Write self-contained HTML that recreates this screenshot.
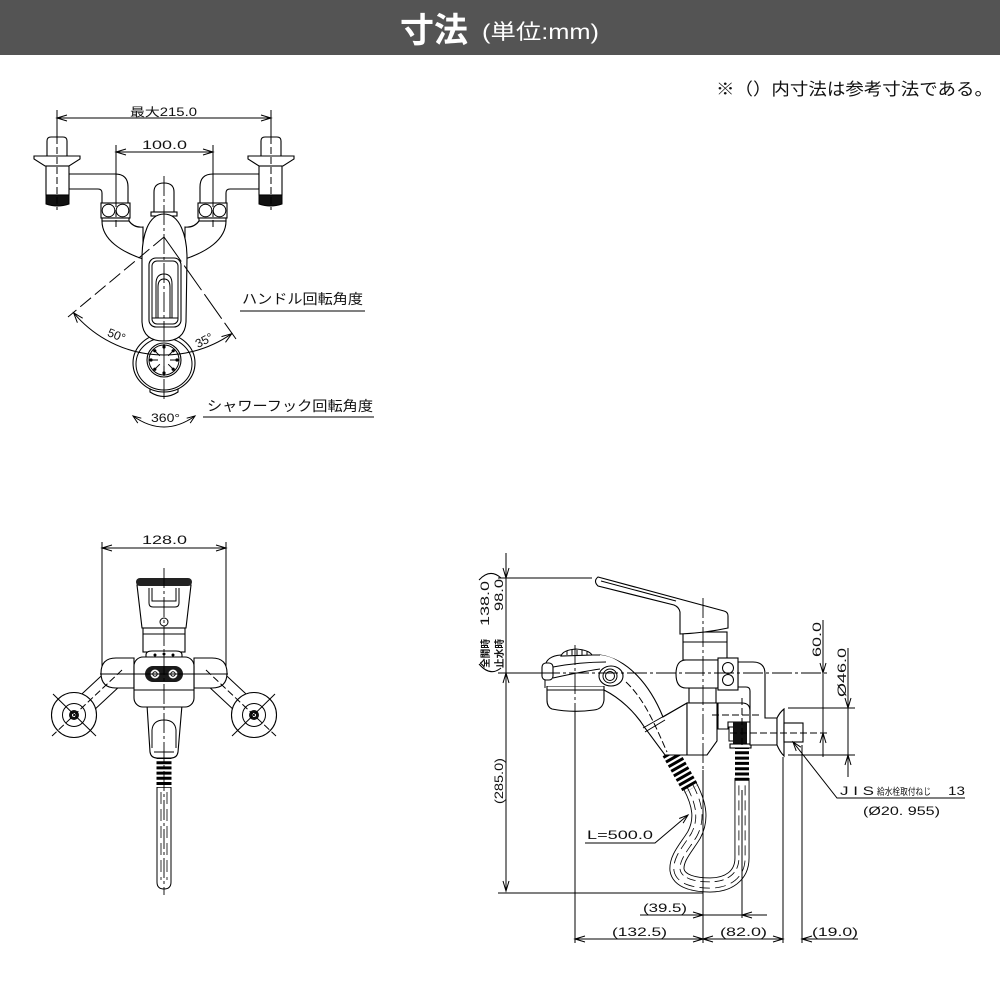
<!DOCTYPE html>
<html><head><meta charset="utf-8">
<style>
html,body{margin:0;padding:0;background:#fff;}
svg{display:block}
.l{stroke:#000;stroke-width:1;fill:none}
.w{fill:#fff;stroke:#000;stroke-width:1.1}
.k{fill:#111;stroke:#000;stroke-width:1}
.dd{stroke:#000;stroke-width:1;fill:none;stroke-dasharray:7 3}
.cl{stroke:#000;stroke-width:0.9;fill:none;stroke-dasharray:20 3 3 3}
.t{font-family:"Liberation Sans","Noto Sans CJK JP",sans-serif;fill:#111;font-size:12px}
.j{font-family:"Liberation Sans","Noto Sans CJK JP",sans-serif;fill:#111}
</style></head><body>
<svg width="1000" height="1000" viewBox="0 0 1000 1000" xmlns="http://www.w3.org/2000/svg">
<rect x="0" y="0" width="1000" height="1000" fill="#fff"/>
<!-- header -->
<rect x="0" y="0" width="1000" height="55" fill="#545454"/>
<text x="400" y="42" class="j" style="fill:#fff;font-size:34px;font-weight:bold">寸法</text>
<text x="482" y="39" class="j" style="fill:#fff;font-size:21px" textLength="117" lengthAdjust="spacingAndGlyphs">(単位:mm)</text>
<text x="716" y="95" class="j" style="font-size:17px" textLength="277" lengthAdjust="spacingAndGlyphs">※（）内寸法は参考寸法である。</text>

<!-- ================= TOP VIEW ================= -->
<g id="topL">
  <path class="w" d="M69,174 H115 Q128,174 128,187 V203 H102 V193 Q102,189 98,189 H69 Z"/>
  <path class="w" d="M47,157 V141 Q47,137 51,137 H63 Q67,137 67,141 V157 Z"/>
  <path class="w" d="M34,156 H80 V159 L69,166 H45 L34,159 Z"/>
  <rect class="w" x="46" y="166" width="23" height="29"/>
  <path class="k" d="M46,195 H69 V204 Q57.5,208 46,204 Z"/>
  <path class="w" d="M102,221 C102,240 122,252 143,259 L143,227 Q134,228 129,221 Z"/>
  <rect class="w" x="101" y="203" width="29" height="15"/>
  <circle class="l" cx="108.5" cy="210.5" r="6.3"/>
  <circle class="l" cx="122.5" cy="210.5" r="6.3"/>
  <rect class="w" x="102" y="218" width="27" height="3"/>
</g>
<g transform="translate(328,0) scale(-1,1)">
  <path class="w" d="M69,174 H115 Q128,174 128,187 V203 H102 V193 Q102,189 98,189 H69 Z"/>
  <path class="w" d="M47,157 V141 Q47,137 51,137 H63 Q67,137 67,141 V157 Z"/>
  <path class="w" d="M34,156 H80 V159 L69,166 H45 L34,159 Z"/>
  <rect class="w" x="46" y="166" width="23" height="29"/>
  <path class="k" d="M46,195 H69 V204 Q57.5,208 46,204 Z"/>
  <path class="w" d="M102,221 C102,240 122,252 143,259 L143,227 Q134,228 129,221 Z"/>
  <rect class="w" x="101" y="203" width="29" height="15"/>
  <circle class="l" cx="108.5" cy="210.5" r="6.3"/>
  <circle class="l" cx="122.5" cy="210.5" r="6.3"/>
  <rect class="w" x="102" y="218" width="27" height="3"/>
</g>
<!-- dome -->
<path class="w" d="M154,213 V192 Q154,183 164,183 Q174,183 174,192 V213 Z"/>
<rect class="w" x="151" y="212" width="26" height="4"/>
<!-- shower ring -->
<path class="w" d="M150,386 Q164,396 178,386 L178,392 Q164,401 150,392 Z"/>
<ellipse class="w" cx="164" cy="363" rx="31" ry="29"/>
<ellipse class="l" cx="164" cy="364" rx="28" ry="26"/>
<!-- body -->
<path class="w" d="M142,258 C142,236 148,214 164,214 C180,214 187,236 187,258 L186,322 Q185,341 164,341 Q143,341 142,322 Z"/>
<rect class="w" x="149" y="258" width="32" height="69" rx="7"/>
<rect class="l" x="152" y="261" width="26" height="63" rx="5"/>
<path class="l" d="M156,318 V284 Q156,274 164,274 Q172,274 172,284 V318"/>
<path class="l" d="M158,318 V287 Q158,279 164,279 Q170,279 170,287 V318"/>
<line class="l" x1="152" y1="318" x2="178" y2="318"/>
<!-- inner circle -->
<circle class="w" cx="164" cy="360" r="17"/>
<circle class="l" cx="164" cy="360" r="15"/>
<g class="l">
<line x1="170" y1="360" x2="177" y2="360"/><line x1="168.2" y1="364.2" x2="173.2" y2="369.2"/>
<line x1="164" y1="366" x2="164" y2="373"/><line x1="159.8" y1="364.2" x2="154.8" y2="369.2"/>
<line x1="158" y1="360" x2="151" y2="360"/><line x1="159.8" y1="355.8" x2="154.8" y2="350.8"/>
<line x1="164" y1="354" x2="164" y2="347"/><line x1="168.2" y1="355.8" x2="173.2" y2="350.8"/>
</g>
<g fill="#000">
<circle cx="177" cy="360" r="1.6"/><circle cx="173.2" cy="369.2" r="1.6"/><circle cx="164" cy="373" r="1.6"/><circle cx="154.8" cy="369.2" r="1.6"/>
<circle cx="151" cy="360" r="1.6"/><circle cx="154.8" cy="350.8" r="1.6"/><circle cx="164" cy="347" r="1.6"/><circle cx="173.2" cy="350.8" r="1.6"/>
</g>
<!-- top dims -->
<line class="l" x1="57" y1="118" x2="271" y2="118"/>
<polyline class="l" points="67,115 57,118 67,121"/>
<polyline class="l" points="261,115 271,118 261,121"/>
<text class="t" x="130" y="116" style="font-size:11.5px" textLength="67" lengthAdjust="spacingAndGlyphs">最大215.0</text>
<line class="l" x1="116" y1="152" x2="213" y2="152"/>
<polyline class="l" points="126,149 116,152 126,155"/>
<polyline class="l" points="203,149 213,152 203,155"/>
<text class="t" x="142" y="149" textLength="45" lengthAdjust="spacingAndGlyphs">100.0</text>
<line class="l" x1="57" y1="110" x2="57" y2="137"/>
<line class="dd" x1="57" y1="137" x2="57" y2="210"/>
<line class="l" x1="271" y1="110" x2="271" y2="137"/>
<line class="dd" x1="271" y1="137" x2="271" y2="210"/>
<line class="l" x1="116" y1="145" x2="116" y2="200"/>
<line class="dd" x1="116" y1="200" x2="116" y2="230"/>
<line class="l" x1="213" y1="145" x2="213" y2="200"/>
<line class="dd" x1="213" y1="200" x2="213" y2="230"/>
<line class="cl" x1="164" y1="176" x2="164" y2="402"/>
<!-- angle lines -->
<line class="l" x1="164" y1="237" x2="68" y2="317" style="stroke-dasharray:14 5"/>
<line class="l" x1="164" y1="237" x2="236" y2="339" style="stroke-dasharray:30 5"/>
<path class="l" d="M73.6,312.8 A118,118 0 0 0 231.7,333.7"/>
<polyline class="l" points="82.7,318.2 73.6,312.8 77.4,322.7"/>
<polyline class="l" points="225.5,342.3 231.7,333.7 221.5,336.6"/>
<text class="t" transform="translate(115,339) rotate(22)" text-anchor="middle" style="font-size:12px">50°</text>
<text class="t" transform="translate(206,344) rotate(-27)" text-anchor="middle" style="font-size:12px">35°</text>
<text class="j" x="242" y="304" style="font-size:14px" textLength="121" lengthAdjust="spacingAndGlyphs">ハンドル回転角度</text>
<line class="l" x1="240" y1="311" x2="365" y2="311"/>
<text class="j" x="207" y="411" style="font-size:14px" textLength="166" lengthAdjust="spacingAndGlyphs">シャワーフック回転角度</text>
<line class="l" x1="203" y1="417" x2="374" y2="417"/>
<path class="l" d="M133,416 Q164,438 195,416"/>
<polyline class="l" points="141.3,418.2 133,416 137.8,423.1"/>
<polyline class="l" points="186.7,418.2 195,416 190.2,423.1"/>
<text class="t" x="151" y="422" textLength="29" lengthAdjust="spacingAndGlyphs">360°</text>

<!-- ================= FRONT VIEW ================= -->
<line class="l" x1="102" y1="548" x2="226" y2="548"/>
<polyline class="l" points="112,545 102,548 112,551"/>
<polyline class="l" points="216,545 226,548 216,551"/>
<text class="t" x="142" y="544" textLength="45" lengthAdjust="spacingAndGlyphs">128.0</text>
<line class="l" x1="102" y1="542" x2="102" y2="668"/>
<line class="l" x1="226" y1="542" x2="226" y2="668"/>
<g id="armL">
  <line x1="117" y1="675" x2="74" y2="715" stroke="#000" stroke-width="21"/>
  <line x1="117" y1="675" x2="74" y2="715" stroke="#fff" stroke-width="19"/>
  <path class="w" d="M134,658 H116 Q101,658 101,673 Q101,688 116,688 H134 Z"/>
  <circle class="w" cx="74" cy="715" r="22.5"/>
  <circle class="l" cx="74" cy="715" r="11.5"/>
  <circle cx="74" cy="715" r="5" fill="#111"/>
  <circle cx="74" cy="715" r="2" fill="#fff"/>
  <line class="dd" x1="122" y1="670" x2="52" y2="736"/>
  <line class="l" x1="53" y1="694" x2="96" y2="736"/>
</g>
<g transform="translate(328,0) scale(-1,1)">
  <line x1="117" y1="675" x2="74" y2="715" stroke="#000" stroke-width="21"/>
  <line x1="117" y1="675" x2="74" y2="715" stroke="#fff" stroke-width="19"/>
  <path class="w" d="M134,658 H116 Q101,658 101,673 Q101,688 116,688 H134 Z"/>
  <circle class="w" cx="74" cy="715" r="22.5"/>
  <circle class="l" cx="74" cy="715" r="11.5"/>
  <circle cx="74" cy="715" r="5" fill="#111"/>
  <circle cx="74" cy="715" r="2" fill="#fff"/>
  <line class="dd" x1="122" y1="670" x2="52" y2="736"/>
  <line class="l" x1="53" y1="694" x2="96" y2="736"/>
</g>
<!-- hose front -->
<path class="l" d="M157,787 V882 Q157,889 164,889 Q171,889 171,882 V787"/>
<line x1="161" y1="792" x2="161" y2="880" stroke="#000" stroke-width="0.8" stroke-dasharray="12 5"/>
<line x1="167" y1="792" x2="167" y2="880" stroke="#000" stroke-width="0.8" stroke-dasharray="12 5"/>
<line x1="164" y1="756" x2="164" y2="788" stroke="#000" stroke-width="15" stroke-dasharray="3 2.2"/>
<!-- holder -->
<path class="w" d="M147,705 L150,752 Q151,758 157,758 H171 Q177,758 178,752 L182,705 Z"/>
<path class="l" d="M152,748 V730 Q153,720 164,720 Q175,720 176,730 V748"/>
<path class="l" d="M154,752 H174"/>
<!-- handle -->
<path class="w" d="M137,585 H191 L186,628 H142 Z"/>
<rect x="136" y="578" width="56" height="8" rx="4" fill="#222"/>
<path class="l" d="M149,588 V603 Q149,607 153,607 H175 Q179,607 179,603 V588"/>
<path class="l" d="M152,588 V601 H176 V588"/>
<circle class="l" cx="164" cy="622" r="4"/>
<rect class="w" x="143" y="628" width="42" height="24"/>
<line class="l" x1="143" y1="634" x2="185" y2="634"/>
<path class="w" d="M146,660 V655 Q146,651 152,651 H176 Q182,651 182,655 V660 Z"/>
<rect class="w" x="134" y="657" width="60" height="50" rx="9"/>
<circle cx="155" cy="655" r="1.5" fill="#000"/><circle cx="164" cy="654" r="1.5" fill="#000"/><circle cx="173" cy="655" r="1.5" fill="#000"/>
<line class="l" x1="134" y1="690" x2="194" y2="690"/>
<rect x="145" y="666" width="38" height="16" rx="8" fill="#1a1a1a"/>
<circle cx="155" cy="674" r="4.5" fill="#fff"/><circle class="l" cx="155" cy="674" r="2.2"/>
<circle cx="173" cy="674" r="4.5" fill="#fff"/><circle class="l" cx="173" cy="674" r="2.2"/>
<line class="l" x1="100" y1="674" x2="228" y2="674"/>
<line class="cl" x1="164" y1="568" x2="164" y2="895"/>

<!-- ================= SIDE VIEW ================= -->
<!-- hose -->
<g fill="none">
<path d="M690,786 C700,805 702,820 694,835 C686,848 676,858 677,870 C679,882 696,885 710,885 C728,885 742,876 742,858 L742,778" stroke="#000" stroke-width="15"/>
<path d="M690,786 C700,805 702,820 694,835 C686,848 676,858 677,870 C679,882 696,885 710,885 C728,885 742,876 742,858 L742,778" stroke="#fff" stroke-width="13.2"/>
<path d="M690,786 C700,805 702,820 694,835 C686,848 676,858 677,870 C679,882 696,885 710,885 C728,885 742,876 742,858 L742,778" stroke="#000" stroke-width="7" stroke-dasharray="10 5"/>
<path d="M690,786 C700,805 702,820 694,835 C686,848 676,858 677,870 C679,882 696,885 710,885 C728,885 742,876 742,858 L742,778" stroke="#fff" stroke-width="5.4"/>
</g>
<line x1="670" y1="752" x2="691" y2="789" stroke="#000" stroke-width="17" stroke-dasharray="3 2.3"/>
<line x1="742" y1="746" x2="742" y2="781" stroke="#000" stroke-width="14" stroke-dasharray="3 2.3"/>
<!-- neck + holder -->
<path class="w" d="M600,655 C628,659 650,685 663,717 L687,703 V755 H665 L645,728 C635,712 620,698 604,690 Z"/>
<line class="l" x1="643" y1="728" x2="687" y2="703"/>
<line class="l" x1="645" y1="732" x2="665" y2="720"/>
<path class="dd" d="M626,682 C645,700 655,725 667,752"/>
<!-- head -->
<path class="w" d="M547,686 H604 V700 Q603,709 594,710 Q572,713 552,709 Q547,707 547,700 Z"/>
<line class="l" x1="547" y1="690" x2="604" y2="690"/>
<path d="M545,688 V667 Q546,656 561,655 L600,655 Q612,656 622,664 L622,686 H545 Z" fill="#fff"/>
<path class="l" d="M545,688 V667 Q546,656 561,655 L600,655"/>
<path class="l" d="M553,678 Q580,672 600,669"/>
<path class="l" d="M553,667 Q580,662 606,662"/>
<rect class="w" x="542" y="663" width="11" height="17" rx="4"/>
<ellipse class="w" cx="611" cy="676" rx="12" ry="10"/>
<circle class="l" cx="610" cy="676" r="7"/>
<circle class="l" cx="610" cy="676" r="4.5"/>
<path class="w" d="M561,656 Q563,650 576,649 Q589,650 592,655 Z"/>
<g class="l"><line x1="567" y1="651" x2="567" y2="655"/><line x1="572" y1="650" x2="572" y2="655"/><line x1="577" y1="650" x2="577" y2="655"/><line x1="582" y1="650" x2="582" y2="655"/><line x1="587" y1="651" x2="587" y2="655"/></g>
<!-- lower valve body -->
<rect class="w" x="689" y="688" width="27" height="15"/>
<path class="w" d="M687,703 H717 V741 L707,755 H687 Z"/>
<!-- connector + black fitting -->
<path class="w" d="M718,703 H742 Q750,703 750,711 V722 H728 V729 H718 Z"/>
<rect x="733" y="722" width="14" height="23" fill="#111"/>
<path class="l" d="M733,727 H729 V741 H733"/>
<rect class="w" x="730" y="744" width="21" height="4"/>
<!-- upper valve body -->
<rect class="w" x="683" y="632" width="44" height="28"/>
<line class="l" x1="683" y1="642" x2="727" y2="642"/>
<path class="w" d="M686,660 H718 V688 H686 Q676,688 676,674 Q676,660 686,660 Z"/>
<path class="w" d="M598,577 L724,611 Q728,612 728,616 V628 Q705,633 680,634 V612 Q679,607 674,605 L598,586 Q593,581 598,577 Z"/>
<line class="l" x1="601" y1="581" x2="676" y2="601"/>
<!-- elbow -->
<path class="w" d="M738,662 H753 Q765,662 765,674 V718 H777 V745 H750 V691 Q750,687 746,687 H738 Z"/>
<rect class="w" x="718" y="658" width="20" height="32"/>
<circle class="l" cx="728" cy="668" r="5.5"/>
<circle class="l" cx="728" cy="680" r="5.5"/>
<path class="w" d="M777,718 Q780,712 784,709 V756 Q780,752 777,745 Z"/>
<rect class="w" x="784" y="723" width="19" height="19"/>

<!-- side centerlines & dims -->
<line class="l" x1="498" y1="673" x2="540" y2="673"/>
<line class="cl" x1="540" y1="673" x2="830" y2="673"/>
<line class="l" x1="498" y1="578" x2="592" y2="578"/>
<line class="l" x1="498" y1="893" x2="703" y2="893"/>
<line class="cl" x1="703" y1="598" x2="703" y2="770"/>
<line class="l" x1="703" y1="770" x2="703" y2="943"/>
<line class="cl" x1="575" y1="645" x2="575" y2="712"/>
<line class="l" x1="575" y1="712" x2="575" y2="943"/>
<line class="dd" x1="742" y1="698" x2="742" y2="745"/>
<line class="l" x1="742" y1="790" x2="742" y2="918"/>
<line class="l" x1="783" y1="757" x2="783" y2="943"/>
<line class="l" x1="802" y1="745" x2="802" y2="943"/>
<line class="dd" x1="712" y1="715" x2="760" y2="715"/>
<line class="dd" x1="730" y1="733" x2="830" y2="733"/>
<line class="l" x1="788" y1="708" x2="855" y2="708"/>
<line class="l" x1="788" y1="755" x2="855" y2="755"/>
<!-- left vertical dim -->
<line class="l" x1="506" y1="553" x2="506" y2="891"/>
<polyline class="l" points="503,568 506,578 509,568"/>
<polyline class="l" points="503,683 506,673 509,683"/>
<polyline class="l" points="503,881 506,891 509,881"/>
<text class="t" transform="translate(489,626) rotate(-90)" textLength="45" lengthAdjust="spacingAndGlyphs">138.0</text>
<text class="t" transform="translate(503,611) rotate(-90)" textLength="32" lengthAdjust="spacingAndGlyphs">98.0</text>
<text class="j" transform="translate(489,668) rotate(-90)" style="font-size:10px;font-weight:bold" textLength="29" lengthAdjust="spacingAndGlyphs">全開時</text>
<text class="j" transform="translate(503,668) rotate(-90)" style="font-size:10px;font-weight:bold" textLength="29" lengthAdjust="spacingAndGlyphs">止水時</text>
<path class="l" d="M479,580 Q490,568 501,578"/>
<path class="l" d="M479,664 Q490,677 501,668"/>
<text class="t" transform="translate(503,804) rotate(-90)" textLength="46" lengthAdjust="spacingAndGlyphs">(285.0)</text>
<!-- right dims -->
<line class="l" x1="823" y1="620" x2="823" y2="757"/>
<polyline class="l" points="820,663 823,673 826,663"/>
<polyline class="l" points="820,743 823,733 826,743"/>
<text class="t" transform="translate(821,657) rotate(-90)" textLength="35" lengthAdjust="spacingAndGlyphs">60.0</text>
<line class="l" x1="848" y1="648" x2="848" y2="777"/>
<polyline class="l" points="845,698 848,708 851,698"/>
<polyline class="l" points="845,765 848,755 851,765"/>
<text class="t" transform="translate(846,697) rotate(-90)" textLength="49" lengthAdjust="spacingAndGlyphs">Ø46.0</text>
<polyline class="l" points="793,742 837,798 965,798"/>
<polyline class="l" points="800.9,747.2 793,742 796.2,750.9"/>
<text class="t" x="840" y="795" textLength="34" lengthAdjust="spacingAndGlyphs">J I S</text>
<text class="j" x="877" y="795" style="font-size:9.5px" textLength="54" lengthAdjust="spacingAndGlyphs">給水栓取付ねじ</text>
<text class="t" x="948" y="795" textLength="17" lengthAdjust="spacingAndGlyphs">13</text>
<text class="t" x="863" y="815" textLength="77" lengthAdjust="spacingAndGlyphs">(Ø20. 955)</text>
<!-- bottom dims -->
<line class="l" x1="640" y1="915" x2="767" y2="915"/>
<polyline class="l" points="693,912 703,915 693,918"/>
<polyline class="l" points="752,912 742,915 752,918"/>
<text class="t" x="643" y="912" textLength="44" lengthAdjust="spacingAndGlyphs">(39.5)</text>
<line class="l" x1="575" y1="939" x2="783" y2="939"/>
<polyline class="l" points="585,936 575,939 585,942"/>
<polyline class="l" points="693,936 703,939 693,942"/>
<polyline class="l" points="713,936 703,939 713,942"/>
<polyline class="l" points="773,936 783,939 773,942"/>
<text class="t" x="612" y="936" textLength="55" lengthAdjust="spacingAndGlyphs">(132.5)</text>
<text class="t" x="720" y="936" textLength="47" lengthAdjust="spacingAndGlyphs">(82.0)</text>
<line class="l" x1="802" y1="939" x2="858" y2="939"/>
<polyline class="l" points="812,936 802,939 812,942"/>
<text class="t" x="812" y="936" textLength="46" lengthAdjust="spacingAndGlyphs">(19.0)</text>
<!-- L=500 -->
<text class="t" x="587" y="839" textLength="66" lengthAdjust="spacingAndGlyphs">L=500.0</text>
<polyline class="l" points="585,843 655,843 688,815"/>
<polyline class="l" points="683.1,823.1 688,815 679.2,818.5"/>
</svg>
</body></html>
